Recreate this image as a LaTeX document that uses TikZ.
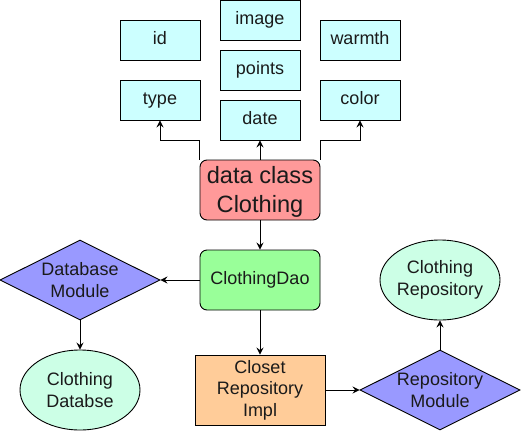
\documentclass[tikz,border=0pt]{standalone}
\usepackage{fontspec}
\setmainfont{Liberation Sans}
\usetikzlibrary{shapes.geometric,arrows.meta}
\definecolor{cyanbox}{HTML}{CCFFFF}
\definecolor{redbox}{HTML}{FF9999}
\definecolor{greenbox}{HTML}{99FF99}
\definecolor{bluebox}{HTML}{9999FF}
\definecolor{mintbox}{HTML}{CCFFE6}
\definecolor{orangebox}{HTML}{FFCC99}
\definecolor{txt}{HTML}{1A1A1A}
\tikzset{
  base/.style={draw=black, line width=0.9pt, inner sep=0pt, text=txt, align=center,
    font=\fontsize{18}{21.6}\selectfont},
  oneline/.style={text height=13pt, text depth=4pt},
  field/.style={base, oneline, rectangle, fill=cyanbox, minimum width=80pt, minimum height=40pt},
  bigbox/.style={base, rectangle, rounded corners=7pt, minimum width=120pt, minimum height=60pt},
  dmd/.style={base, diamond, fill=bluebox, minimum width=160pt, minimum height=80pt},
  ell/.style={base, ellipse, fill=mintbox, minimum width=120pt, minimum height=80pt},
  lbl/.style={text=txt, align=center, inner sep=0pt, font=\fontsize{18}{21.6}\selectfont},
  arr/.style={draw=black, line width=0.9pt, -{Stealth[length=7pt,width=7pt,inset=2.5pt]}}
}
\begin{document}
\begin{tikzpicture}[x=1pt,y=-1pt]
\useasboundingbox (0,0) rectangle (521,431);
% fields
\node[field] (id) at (160,40) {id};
\node[field] (type) at (160,100) {type};
\node[field] (image) at (260,20) {image};
\node[field] (points) at (260,70) {points};
\node[field] (date) at (260,120) {date};
\node[field] (warmth) at (360,40) {warmth};
\node[field] (color) at (360,100) {color};
% main
\node[bigbox, fill=redbox, label={[lbl, font=\fontsize{23.6}{28.3}\selectfont, yshift=-2pt]center:data class\\Clothing}] (clothing) at (260,190) {};
\node[bigbox, oneline, fill=greenbox] (dao) at (260,280) {ClothingDao};
\node[dmd, label={[lbl]center:Database\\Module}] (dbmod) at (80,280) {};
\node[ell, label={[lbl]center:Clothing\\Databse}] (db) at (80,390) {};
\node[base, rectangle, fill=orangebox, minimum width=130pt, minimum height=70pt] (impl) at (260,390) {Closet\\Repository\\Impl};
\node[dmd, label={[lbl]center:Repository\\Module}] (repmod) at (440,390) {};
\node[ell, label={[lbl]center:Clothing\\Repository}] (repo) at (440,280) {};
% connectors
\coordinate (lb) at (160,140);
\coordinate (rb) at (360,140);
\draw[arr] (clothing.north west) |- (lb) -- (type.south);
\draw[arr] (clothing.north east) |- (rb) -- (color.south);
\draw[arr] (clothing.north) -- (date.south);
\draw[arr] (clothing.south) -- (dao.north);
\draw[arr] (dao.west) -- (dbmod.east);
\draw[arr] (dbmod.south) -- (db.north);
\draw[arr] (dao.south) -- (impl.north);
\draw[arr] (impl.east) -- (repmod.west);
\draw[arr] (repmod.north) -- (repo.south);
\end{tikzpicture}
\end{document}
